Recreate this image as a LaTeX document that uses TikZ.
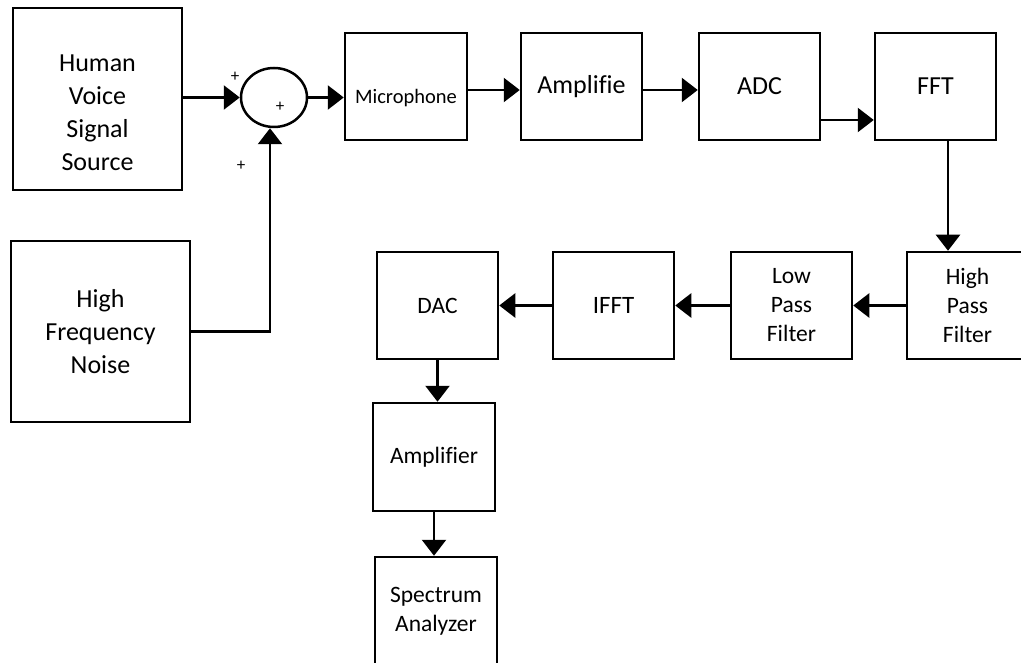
\documentclass[tikz,border=0pt]{standalone}
\usepackage{fontspec}
\setmainfont{Carlito}[Ligatures=CommonOff]
\usetikzlibrary{arrows.meta, shapes.geometric}

\newcommand{\bigtxt}{\fontsize{26pt}{33pt}\selectfont}
\newcommand{\smalltxt}{\fontsize{23.5pt}{29pt}\selectfont}
\newcommand{\mictxt}{\fontsize{20.5pt}{25pt}\selectfont}
\newcommand{\plustxt}{\fontsize{17pt}{20pt}\selectfont}

\tikzset{
    blk/.style={draw, line width=2.5pt, minimum width=121pt, minimum height=107pt,
        inner sep=0pt, align=center, font=\bigtxt},
    arr/.style={line width=2.5pt, -{Triangle[length=16pt, width=24pt]}},
}

\begin{document}
\begin{tikzpicture}[x=1pt, y=-1pt]
    \useasboundingbox (0,0) rectangle (1021,663);

    \node [blk, minimum width=169pt, minimum height=182pt, text height=43pt, text depth=0pt] (voice) at (97.5,99)
        {\begin{tabular}{@{}c@{}}Human\\Voice\\Signal\\Source\end{tabular}};
    \node [blk, minimum width=179pt, minimum height=181pt] (noise) at (100.5,331.5) {High\\Frequency\\Noise};

    \node [draw, ellipse, line width=2.5pt, minimum width=66pt, minimum height=59pt, inner sep=0pt] (sum) at (274,97.5) {};
    \node [font=\plustxt] (plusa) at (235,77) {+};
    \node [font=\plustxt] (plusb) at (280,107) {+};
    \node [font=\plustxt] (plusc) at (241,166) {+};

    \node [blk, minimum width=122pt, font=\mictxt, text height=35pt, text depth=0pt] (mic) at (406,86.5) {Microphone};
    \node [blk] (amp) at (581.5,86.5) {Amplifie};
    \node [blk] (adc) at (759.5,86.5) {ADC};
    \node [blk] (fft) at (935.5,86.5) {FFT};

    \node [blk, font=\smalltxt] (hpf) at (967.5,305.5) {High\\Pass\\Filter};
    \node [blk, font=\smalltxt] (lpf) at (791.5,305.5) {Low\\Pass\\Filter};
    \node [blk, font=\fontsize{25pt}{31pt}\selectfont] (ifft) at (613.5,305.5) {IFFT};
    \node [blk, font=\smalltxt] (dac) at (437.5,305.5) {DAC};
    \node [blk, minimum width=122pt, minimum height=108pt, font=\smalltxt] (ampout) at (434,457) {Amplifier};
    \node [blk, minimum width=122pt, minimum height=108pt, font=\smalltxt] (spec) at (436,611) {Spectrum\\Analyzer};

    \draw [arr] (voice.east |- sum.west) -- (sum.west);
    \draw [arr] (noise.east) -| ([xshift=-4pt]sum.south);
    \draw [arr] (sum.east) -- (mic.west |- sum.east);
    \draw [arr] ([yshift=-3.5pt]mic.east) -- ([yshift=-3.5pt]amp.west);
    \draw [arr] ([yshift=-3.5pt]amp.east) -- ([yshift=-3.5pt]adc.west);
    \draw [arr] ([yshift=-33.5pt]adc.east) -- ([yshift=-33.5pt]fft.west);
    \draw [arr] ([xshift=12.5pt]fft.south) -- ([xshift=12.5pt]fft.south |- hpf.north);
    \draw [arr] (hpf.west) -- (lpf.east);
    \draw [arr] (lpf.west) -- (ifft.east);
    \draw [arr] (ifft.west) -- (dac.east);
    \draw [arr] (dac.south) -- (dac.south |- ampout.north);
    \draw [arr] (ampout.south) -- (ampout.south |- spec.north);
\end{tikzpicture}
\end{document}
